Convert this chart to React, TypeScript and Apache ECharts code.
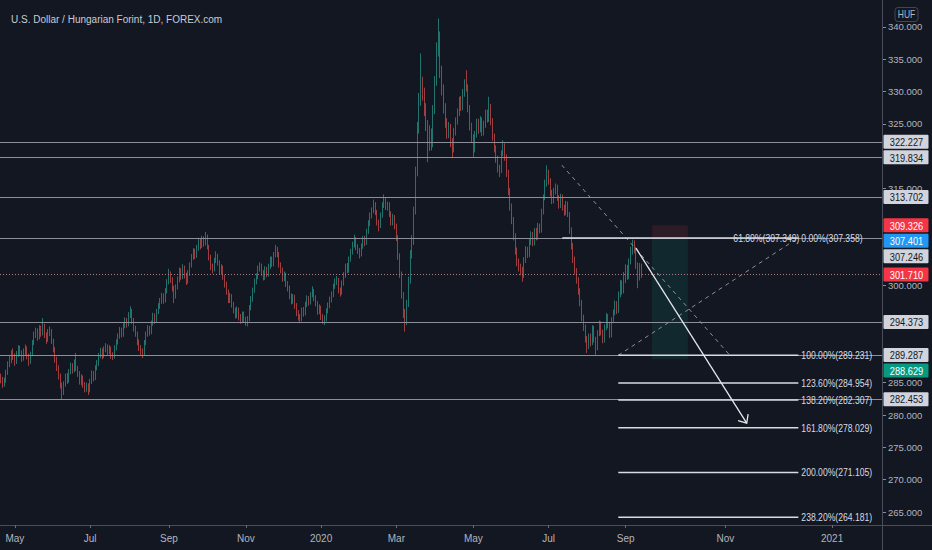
import React, { useEffect, useRef } from "react";
import * as echarts from "echarts";

// ---------- data ----------
const FIRST_OPEN = 285.8;

const closes = [
  285.4,284.9,285.3,286.6,287.9,288.4,289.6,289.0,288.2,289.4,
  290.3,289.6,288.7,289.8,290.4,289.1,288.3,289.5,291.2,292.4,
  292.9,292.1,293.4,292.6,293.8,292.4,291.6,292.8,293.1,291.5,
  290.2,288.6,287.3,286.0,284.6,283.6,284.8,285.9,285.3,286.7,
  287.6,286.9,288.1,287.2,286.4,285.1,285.8,284.7,284.0,284.6,
  283.9,285.2,286.4,285.7,287.3,288.0,289.2,289.9,289.1,290.2,
  290.6,289.8,290.3,289.2,289.0,290.4,291.3,292.2,293.1,292.5,
  293.8,294.6,294.0,295.4,296.0,294.6,293.4,292.6,291.3,290.4,
  289.8,289.6,291.2,292.5,293.4,292.8,294.2,295.3,294.6,296.0,
  296.8,297.6,298.4,297.7,299.2,300.6,301.8,300.9,299.6,298.4,
  299.8,300.9,302.3,301.4,302.8,301.6,300.7,301.9,303.2,304.4,
  305.3,304.6,305.8,306.9,306.1,307.2,306.5,307.6,306.0,304.4,
  302.9,302.6,303.9,304.5,303.6,302.1,302.8,301.4,300.2,299.1,
  297.8,298.4,297.1,296.2,295.4,296.3,295.1,294.6,295.6,294.8,
  294.2,294.9,296.6,297.9,299.3,300.6,301.4,302.7,303.1,302.0,
  301.3,302.6,301.8,303.0,304.1,303.4,304.8,305.6,304.9,303.2,
  302.4,301.1,301.7,300.3,299.6,298.4,297.6,298.3,296.9,295.8,
  295.1,294.9,296.2,295.7,297.1,298.0,297.4,298.6,299.2,298.1,
  297.3,296.0,296.6,295.2,294.6,294.9,296.1,296.9,297.8,298.6,
  299.9,300.6,300.9,299.2,299.0,300.4,301.6,303.0,302.4,304.1,
  305.2,306.3,307.2,306.0,305.4,304.8,306.1,307.3,306.6,308.4,
  309.6,310.8,311.6,312.6,311.4,309.8,309.2,310.9,312.4,313.4,
  312.2,312.6,311.1,309.8,310.6,309.2,307.4,304.6,301.8,298.6,
  295.6,294.4,297.2,300.8,304.9,306.8,311.5,317.6,324.2,328.6,
  331.4,329.8,327.4,324.8,321.9,323.6,322.0,327.1,331.6,336.4,
  338.6,333.2,330.4,327.4,325.2,323.4,324.6,322.1,321.0,323.8,
  325.4,326.8,328.6,327.6,329.8,331.2,330.6,327.4,324.6,322.8,
  321.1,323.4,325.2,324.1,325.6,323.7,324.9,326.6,325.8,327.6,
  325.4,323.0,321.2,319.6,318.1,317.9,320.4,321.6,319.9,317.4,
  314.6,312.2,310.1,307.6,305.4,303.6,302.8,302.4,301.6,303.9,
  305.6,304.8,306.7,307.9,306.6,308.4,307.5,309.1,308.6,311.4,
  313.6,315.8,317.4,316.2,314.4,313.1,314.6,315.2,313.6,312.4,
  313.7,312.1,311.3,312.6,311.0,308.6,306.2,304.1,302.3,300.9,
  299.2,297.4,295.1,293.6,291.8,290.6,292.1,291.2,293.4,291.7,
  290.4,292.6,294.1,292.8,291.6,293.5,295.2,293.9,292.4,294.6,
  295.8,297.2,296.1,298.6,300.4,299.1,301.6,302.8,301.4,303.7,
  305.2,306.0,305.6,303.2,301.2,303.1,301.71,
];

const highs = [
  286.4,285.9,285.8,287.0,288.3,289.1,290.0,290.3,289.5,289.9,
  290.8,290.7,290.0,290.3,290.9,290.6,289.5,289.8,291.6,292.9,
  293.5,293.4,293.9,293.8,295.0,294.1,292.8,293.3,293.7,293.3,
  291.8,290.5,289.0,287.7,286.4,285.0,285.2,286.4,286.5,287.1,
  288.1,288.0,288.6,289.6,287.6,286.8,286.3,286.1,285.1,285.0,
  284.9,285.6,286.9,286.8,287.7,288.5,289.6,290.4,290.3,290.6,
  291.1,290.9,290.8,290.6,289.7,290.8,291.7,292.6,293.6,293.5,
  294.2,295.1,295.0,295.9,296.8,296.4,295.0,293.8,292.9,291.7,
  290.8,290.3,291.6,292.9,293.9,293.8,294.6,295.8,295.7,296.4,
  297.3,298.1,298.9,298.8,299.6,301.0,302.6,302.2,301.3,300.0,
  300.2,301.4,302.8,302.7,303.3,303.1,302.0,302.4,303.6,304.9,
  305.8,305.7,306.3,307.4,307.3,307.7,307.6,308.3,307.9,306.3,
  304.8,303.4,304.3,305.3,304.9,303.9,303.3,303.1,301.7,300.6,
  299.4,298.9,298.7,297.5,296.6,296.8,296.6,295.6,296.0,296.0,
  295.2,295.3,297.0,298.4,299.7,301.1,301.9,303.1,303.6,303.4,
  302.4,303.0,302.9,303.4,304.5,304.5,305.2,306.3,306.0,305.2,
  303.6,302.8,302.2,302.0,300.7,300.0,298.8,298.7,298.6,297.3,
  296.2,295.6,296.6,296.7,297.5,298.5,298.4,299.0,299.9,299.5,
  298.5,297.6,297.1,296.9,295.6,295.4,296.5,297.4,298.3,299.1,
  300.3,301.1,301.5,301.2,299.7,300.8,302.1,303.4,303.5,304.5,
  305.7,306.8,307.9,307.5,306.4,305.8,306.5,307.7,307.7,308.8,
  310.1,311.3,312.1,313.3,312.9,311.7,310.2,311.3,312.9,314.1,
  313.7,313.0,312.9,311.5,311.1,310.9,309.6,307.8,305.0,302.2,
  299.0,296.4,297.8,301.4,305.5,307.8,312.2,318.4,325.3,329.8,
  335.9,332.3,330.6,328.2,325.6,324.8,324.3,327.9,332.4,337.6,
  341.3,339.3,334.0,331.1,328.2,325.9,325.3,325.0,322.8,324.4,
  326.0,327.4,329.2,329.3,330.4,331.9,333.3,331.1,327.9,325.2,
  323.4,323.9,325.8,325.8,326.2,326.0,325.5,327.2,327.2,329.2,
  328.1,325.9,323.5,321.7,320.1,318.7,320.9,322.5,322.0,320.3,
  317.9,315.1,312.7,310.6,308.1,305.9,304.2,303.4,302.9,304.4,
  306.1,306.0,307.2,308.4,308.3,308.9,308.9,309.7,309.6,311.9,
  314.1,316.4,318.6,317.9,316.6,314.8,315.1,315.8,315.6,314.0,
  314.2,314.1,312.5,313.1,313.0,311.4,309.0,306.6,304.5,302.7,
  301.3,299.6,297.8,295.5,294.0,292.2,292.6,292.6,293.9,293.8,
  292.1,293.1,294.6,294.5,293.2,294.0,295.8,295.6,294.3,295.1,
  296.3,297.7,297.6,299.1,300.9,300.8,302.1,303.3,303.2,304.2,
  306.0,307.1,307.0,306.0,303.6,303.5,303.4,
];

const lows = [
  284.9,284.2,284.4,285.0,286.2,287.4,288.0,288.5,287.6,287.9,
  289.0,289.1,288.2,288.4,289.3,288.6,287.6,287.9,289.1,290.8,
  291.9,291.5,291.7,292.1,292.3,291.9,291.0,291.3,292.2,291.0,
  289.7,288.1,286.8,285.5,284.1,282.3,283.1,284.4,284.8,285.0,
  286.3,286.4,286.6,286.8,285.9,284.7,284.6,284.2,283.5,283.6,
  283.1,283.5,284.8,285.2,285.4,286.9,287.6,288.8,288.6,288.8,
  289.7,289.3,289.4,288.7,288.5,288.7,290.0,290.9,291.8,292.0,
  292.1,293.4,293.5,293.7,295.0,294.1,292.9,292.1,290.8,289.9,
  289.3,288.8,289.2,290.8,292.1,292.3,292.5,293.8,294.1,294.3,
  295.6,296.4,297.2,297.2,297.4,298.8,300.2,300.4,299.1,297.3,
  298.0,299.4,300.5,300.9,301.0,301.1,300.1,300.3,301.5,302.8,
  304.0,304.1,304.3,305.4,305.6,305.8,306.0,306.2,305.6,303.9,
  302.4,301.9,302.2,303.5,303.1,301.7,301.7,300.9,299.7,298.6,
  297.3,297.3,296.6,295.7,294.9,295.0,294.6,294.1,294.2,294.3,
  293.8,293.7,294.5,296.2,297.5,298.9,300.2,301.0,302.2,301.5,
  300.8,300.9,301.3,301.4,302.6,302.9,303.0,304.4,304.4,302.8,
  301.9,300.6,300.7,299.8,299.1,297.9,297.1,297.2,296.4,295.3,
  294.6,294.2,294.5,295.2,295.4,296.7,296.9,297.1,298.2,297.6,
  296.8,295.5,295.6,294.7,294.1,293.9,294.5,295.7,296.5,297.4,
  298.2,299.5,300.1,298.8,298.3,298.6,300.0,301.2,301.9,302.0,
  303.7,304.8,305.9,305.5,304.9,304.2,304.5,305.7,306.1,306.3,
  308.0,309.2,310.4,311.2,310.9,309.3,308.4,308.9,310.5,312.0,
  311.7,311.6,310.6,309.3,309.3,308.7,306.9,304.0,301.2,298.0,
  295.0,292.9,293.9,296.7,300.3,304.2,306.3,311.0,316.9,323.5,
  327.8,328.6,326.2,323.9,319.1,320.8,320.9,321.4,326.5,330.9,
  335.4,332.1,329.4,326.6,324.4,322.7,322.8,321.4,319.7,320.6,
  323.2,324.9,326.2,327.0,327.1,329.2,330.0,326.8,324.0,322.1,
  319.9,320.6,322.9,323.5,323.7,323.1,323.2,324.4,325.2,325.3,
  324.8,322.4,320.6,319.0,317.5,316.8,317.4,320.0,319.3,316.8,
  314.0,311.6,309.5,307.0,304.8,303.0,302.2,301.6,300.6,301.2,
  303.5,304.3,304.4,306.3,306.1,306.2,307.0,307.1,308.1,308.2,
  311.0,313.2,315.3,315.6,313.8,312.6,312.7,314.1,313.1,311.9,
  312.0,311.6,310.8,310.9,310.6,308.0,305.6,303.5,301.7,300.3,
  298.6,296.8,294.5,293.0,291.2,289.6,290.2,290.6,290.8,291.2,
  289.3,290.0,292.2,292.3,291.1,291.2,293.1,293.4,291.9,292.0,
  294.2,295.4,295.6,295.8,298.2,298.6,298.8,300.4,300.9,301.0,
  303.3,304.8,305.0,302.6,299.6,300.8,301.2,
];

const FUTURE_DAYS = 137;
const MONTHS = ["Jan","Feb","Mar","Apr","May","Jun","Jul","Aug","Sep","Oct","Nov","Dec"];
const yTickLabels = [340, 335, 330, 325, 315, 300, 285, 280, 275, 270, 265];

const levelLines = [322.227, 319.834, 313.702, 307.246, 294.373, 289.287, 282.453];
const lastPrice = 301.71;

const priceTags = [
  { v: 322.227, bg: "#d1d4dc", fg: "#131722" },
  { v: 319.834, bg: "#d1d4dc", fg: "#131722" },
  { v: 313.702, bg: "#d1d4dc", fg: "#131722" },
  { v: 309.326, bg: "#f23645", fg: "#ffffff" },
  { v: 307.401, bg: "#2196f3", fg: "#ffffff" },
  { v: 307.246, bg: "#d1d4dc", fg: "#131722" },
  { v: 301.71, bg: "#f23645", fg: "#ffffff" },
  { v: 294.373, bg: "#d1d4dc", fg: "#131722" },
  { v: 289.287, bg: "#d1d4dc", fg: "#131722" },
  { v: 288.629, bg: "#089981", fg: "#ffffff" },
  { v: 282.453, bg: "#d1d4dc", fg: "#131722" },
];

const fibExtLevels = [
  { pct: "100.00%", v: 289.231 },
  { pct: "123.60%", v: 284.954 },
  { pct: "138.20%", v: 282.307 },
  { pct: "161.80%", v: 278.029 },
  { pct: "200.00%", v: 271.105 },
  { pct: "238.20%", v: 264.181 },
];
const fibZero = { pct: "0.00%", v: 307.358 };
const fibRetr = { pct: "61.80%", v: 307.349 };

// drawing anchors as [bar index, price]
const fibExtSpan = [352.8, 455.7];
const fibZeroSpan = [320.8, 455.7];
const dashedA = [[320.5, 318.64], [416.6, 289.231]];
const dashedB = [[352.8, 289.231], [455.5, 307.358]];
const arrowPts = [[362.9, 305.8], [426.2, 278.75]];
const shortPos = { from: 372.1, to: 392.6, stop: 309.326, entry: 307.401, target: 288.629 };

const TITLE = "U.S. Dollar / Hungarian Forint, 1D, FOREX.com";

// ---------- styling ----------
const BG = "#131722";
const FONT = "'Liberation Sans', Arial, sans-serif";
const TXT = "#b2b5be";
const AXIS = "#4a4e5a";
const GREY_LINE = "#8c8f99";
const WHITE_LINE = "#d8dbe2";

function buildCategories(n: number) {
  const cats: string[] = [];
  const d = new Date(Date.UTC(2019, 3, 19));
  while (cats.length < n) {
    const wd = d.getUTCDay();
    if (wd !== 0 && wd !== 6) cats.push(d.toISOString().slice(0, 10));
    d.setUTCDate(d.getUTCDate() + 1);
  }
  for (let k = 0; k < FUTURE_DAYS; k++) {
    cats.push(d.toISOString().slice(0, 10));
    d.setUTCDate(d.getUTCDate() + 1);
  }
  return cats;
}

export default function App() {
  const ref = useRef<HTMLDivElement>(null);

  useEffect(() => {
    document.body.style.margin = "0";
    document.body.style.background = BG;
    const chart = echarts.init(ref.current!, null, { renderer: "svg" });

    const cats = buildCategories(closes.length);
    const labelIdx = new Set<number>();
    cats.forEach((c, i) => {
      if (i === 0) return;
      const m = +c.slice(5, 7) - 1;
      const pm = +cats[i - 1].slice(5, 7) - 1;
      if (m !== pm && m % 2 === 0) labelIdx.add(i);
    });
    const showIdx = (i: number) => labelIdx.has(i);

    const candles = closes.map((c, i) => {
      const o = i === 0 ? FIRST_OPEN : closes[i - 1];
      const h = Math.max(highs[i], o, c);
      const l = Math.min(lows[i], o, c);
      return [o, c, l, h];
    });

    const option: any = {
      animation: false,
      backgroundColor: BG,
      title: {
        text: TITLE,
        left: 6,
        top: 9,
        textStyle: { color: "#c9ccd4", fontSize: 10, fontWeight: "normal", fontFamily: FONT },
      },
      grid: { left: 0, right: 50, top: 1, bottom: 25 },
      xAxis: {
        type: "category",
        data: cats,
        boundaryGap: true,
        axisLine: { show: true, lineStyle: { color: AXIS, width: 1 } },
        axisTick: { show: true, interval: showIdx, alignWithLabel: true, length: 3, lineStyle: { color: "#6a6d78" } },
        axisLabel: {
          interval: showIdx,
          formatter: (v: string) => {
            const m = +v.slice(5, 7) - 1;
            return m === 0 ? v.slice(0, 4) : MONTHS[m];
          },
          color: TXT,
          fontSize: 10,
          fontFamily: FONT,
          margin: 8,
        },
        splitLine: { show: false },
      },
      yAxis: {
        type: "value",
        position: "right",
        min: 263,
        max: 344,
        splitLine: { show: false },
        axisLine: { show: false },
        axisTick: { show: true, customValues: yTickLabels, length: 4, lineStyle: { color: "#8a8d96" } },
        axisLabel: {
          customValues: yTickLabels,
          formatter: (v: number) => v.toFixed(3),
          color: TXT,
          fontSize: 9.5,
          fontFamily: FONT,
          margin: 6,
        },
      },
      series: [
        {
          type: "candlestick",
          data: candles,
          barWidth: 1,
          itemStyle: {
            color: "#2a9a8e",
            color0: "#dc4f4f",
            borderColor: "#2a9a8e",
            borderColor0: "#dc4f4f",
            borderWidth: 0.7,
          },
          markLine: {
            silent: true,
            symbol: ["none", "none"],
            label: { show: false },
            data: [
              ...levelLines.map((v) => ({ yAxis: v, lineStyle: { color: GREY_LINE, width: 1, type: "solid" } })),
              { yAxis: lastPrice, lineStyle: { color: "#b07c84", width: 1, type: [1, 2] } },
            ],
          },
        },
      ],
    };
    chart.setOption(option);

    const toPx = (idx: number, price: number) => {
      const i0 = Math.floor(idx);
      const f = idx - i0;
      const a = chart.convertToPixel({ gridIndex: 0 }, [i0, price]) as number[];
      const b = chart.convertToPixel({ gridIndex: 0 }, [i0 + 1, price]) as number[];
      return [a[0] + f * (b[0] - a[0]), a[1]];
    };
    const yOf = (p: number) => toPx(0, p)[1];

    const els: any[] = [];
    const txt = (text: string, x: number, y: number, align: string, fill: string, size = 10.5, sx = 0.82, z = 30) => ({
      type: "text",
      z,
      x,
      y,
      scaleX: sx,
      silent: true,
      style: {
        text, x: 0, y: 0, fill,
        font: `${size}px ${FONT}`,
        align, verticalAlign: "middle",
        textAlign: align, textVerticalAlign: "middle",
      },
    });
    const line = (p1: number[], p2: number[], stroke: string, width: number, dash?: number[], z = 12) => ({
      type: "line",
      z,
      silent: true,
      shape: { x1: p1[0], y1: p1[1], x2: p2[0], y2: p2[1] },
      style: { stroke, lineWidth: width, lineDash: dash || null },
    });

    // short position box
    {
      const x1 = toPx(shortPos.from, 0)[0];
      const x2 = toPx(shortPos.to, 0)[0];
      const yS = yOf(shortPos.stop), yE = yOf(shortPos.entry), yT = yOf(shortPos.target);
      els.push({ type: "rect", z: 1, silent: true, shape: { x: x1, y: yS, width: x2 - x1, height: yE - yS }, style: { fill: "rgba(242,54,69,0.12)" } });
      els.push({ type: "rect", z: 1, silent: true, shape: { x: x1, y: yE, width: x2 - x1, height: yT - yE }, style: { fill: "rgba(8,153,129,0.13)" } });
    }

    // dashed connectors
    els.push(line(toPx(dashedA[0][0], dashedA[0][1]), toPx(dashedA[1][0], dashedA[1][1]), "#8c8f99", 1, [4, 4]));
    els.push(line(toPx(dashedB[0][0], dashedB[0][1]), toPx(dashedB[1][0], dashedB[1][1]), "#8c8f99", 1, [4, 4]));

    // fib lines
    els.push(line(toPx(fibZeroSpan[0], fibZero.v), toPx(fibZeroSpan[1], fibZero.v), WHITE_LINE, 1.5));
    fibExtLevels.forEach((l) => {
      const a = toPx(fibExtSpan[0], l.v);
      const b = toPx(fibExtSpan[1], l.v);
      els.push(line(a, b, WHITE_LINE, 1.5));
      els.push(txt(`${l.pct}(${l.v.toFixed(3)})`, b[0] + 3, a[1], "left", WHITE_LINE));
    });
    {
      const b = toPx(fibZeroSpan[1], fibZero.v);
      els.push(txt(`${fibRetr.pct}(${fibRetr.v.toFixed(3)})`, b[0] + 1, yOf(fibRetr.v), "right", WHITE_LINE));
      els.push(txt(`${fibZero.pct}(${fibZero.v.toFixed(3)})`, b[0] + 3, b[1], "left", WHITE_LINE));
    }

    // arrow
    {
      const p1 = toPx(arrowPts[0][0], arrowPts[0][1]);
      const p2 = toPx(arrowPts[1][0], arrowPts[1][1]);
      els.push(line(p1, p2, "#e6e8ee", 1.3, undefined, 14));
      const ang = Math.atan2(p2[1] - p1[1], p2[0] - p1[0]);
      const L = 9, s = 0.72;
      els.push({
        type: "polyline", z: 14, silent: true,
        shape: { points: [
          [p2[0] - L * Math.cos(ang - s), p2[1] - L * Math.sin(ang - s)],
          p2,
          [p2[0] - L * Math.cos(ang + s), p2[1] - L * Math.sin(ang + s)],
        ] },
        style: { stroke: "#e6e8ee", lineWidth: 1.3, fill: null },
      });
    }

    // axis frame
    els.push(line([882.5, 0], [882.5, 550], AXIS, 1, undefined, 25));
    els.push(line([882.5, 525.5], [932, 525.5], AXIS, 1, undefined, 25));

    // price tags
    const tags = priceTags.map((t) => ({ ...t, y: yOf(t.v) })).sort((a, b) => a.y - b.y);
    let prev = -1e9;
    tags.forEach((t) => {
      t.y = Math.max(t.y, prev + 15.5);
      prev = t.y;
      els.push({ type: "rect", z: 40, silent: true, shape: { x: 883.5, y: t.y - 7, width: 45, height: 14, r: 1 }, style: { fill: t.bg } });
      els.push(txt(t.v.toFixed(3), 906.5, t.y + 0.5, "center", t.fg, 10.5, 0.88, 41));
    });

    // currency badge
    els.push({ type: "rect", z: 40, silent: true, shape: { x: 895, y: 7.5, width: 23, height: 14, r: 3 }, style: { fill: BG, stroke: "#434651", lineWidth: 1 } });
    els.push(txt("HUF", 906.5, 14.8, "center", TXT, 10, 0.85, 41));

    chart.setOption({ graphic: els });

    return () => chart.dispose();
  }, []);

  return (
    <div
      ref={ref}
      style={{ position: "fixed", left: 0, top: 0, width: 932, height: 550, background: BG }}
    />
  );
}
